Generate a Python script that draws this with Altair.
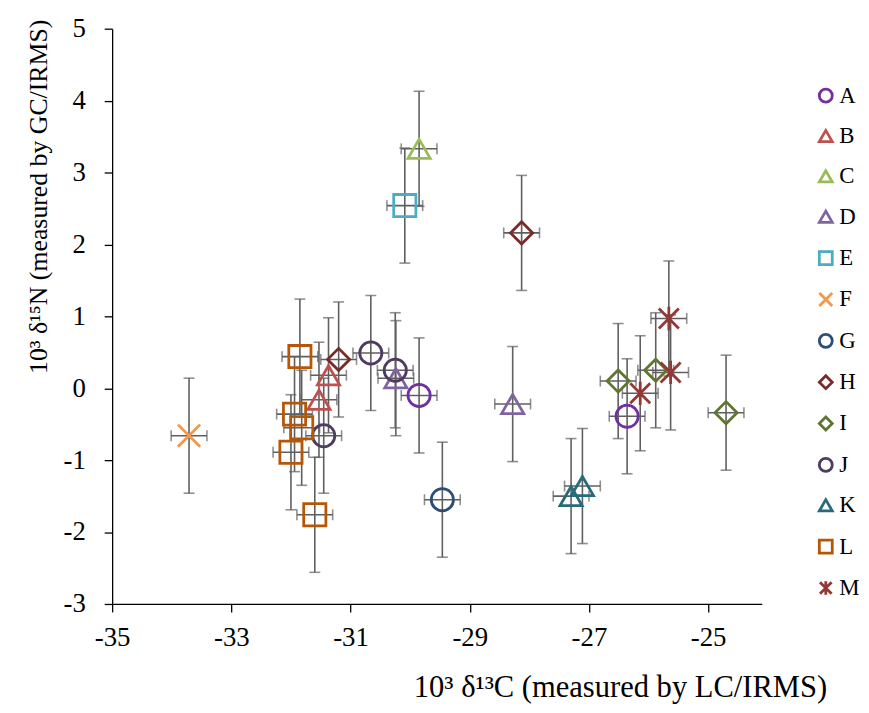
import altair as alt
import pandas as pd

# ---- data ----
series = ["A", "A", "B", "B", "C", "D", "D", "E", "F", "G", "H", "H",
          "I", "I", "I", "J", "J", "J", "K", "K", "L", "L", "L", "L", "L",
          "M", "M", "M"]
d13c = [-29.85, -26.36, -31.37, -31.53, -29.85, -30.24, -28.28, -30.09,
        -33.71, -29.46, -31.20, -28.13, -26.51, -25.88, -24.70, -30.66,
        -30.25, -31.45, -27.11, -27.30, -31.85, -31.94, -31.82, -32.00,
        -31.60, -25.66, -25.63, -26.14]
d15n = [-0.10, -0.39, 0.18, -0.16, 3.33, 0.14, -0.22, 2.54, -0.66, -1.55,
        0.40, 2.16, 0.10, 0.25, -0.34, 0.49, 0.25, -0.66, -1.36, -1.50,
        0.44, -0.36, -0.55, -0.89, -1.76, 0.97, 0.22, -0.07]
xerr = [0.3, 0.3, 0.3, 0.3, 0.3, 0.3, 0.3, 0.3, 0.3, 0.3, 0.3, 0.3, 0.3, 0.3,
        0.3, 0.3, 0.3, 0.3, 0.3, 0.3, 0.3, 0.3, 0.3, 0.3, 0.3, 0.3, 0.3, 0.3]
yerr = [0.8, 0.8, 0.8, 0.8, 0.8, 0.8, 0.8, 0.8, 0.8, 0.8, 0.8, 0.8, 0.8, 0.8,
        0.8, 0.8, 0.8, 0.8, 0.8, 0.8, 0.8, 0.8, 0.8, 0.8, 0.8, 0.8, 0.8, 0.8]

names = ["A", "B", "C", "D", "E", "F", "G", "H", "I", "J", "K", "L", "M"]
colors = ["#7030A0", "#C0504D", "#9BBB59", "#8064A2", "#4BACC6", "#F79646",
          "#2C4D75", "#772C2A", "#5F7530", "#4D3B62", "#276A7C", "#B65708",
          "#953735"]
X_PATH = "M-1,-1L1,1M-1,1L1,-1"
AST_PATH = "M-0.9,-0.9L0.9,0.9M-0.9,0.9L0.9,-0.9M0,-1.05L0,1.05"
shapes = ["circle", "triangle-up", "triangle-up", "triangle-up", "square",
          X_PATH, "circle", "diamond", "diamond", "circle", "triangle-up",
          "square", AST_PATH]

x_ticks = [-35, -33, -31, -29, -27, -25]
y_ticks = [-3, -2, -1, 0, 1, 2, 3, 4, 5]

df = pd.DataFrame({"series": series, "x": d13c, "y": d15n,
                   "xe": xerr, "ye": yerr})

FONT = "Liberation Serif, Times New Roman, serif"
xscale = alt.Scale(domain=[-35, -24.1], nice=False, zero=False)
yscale = alt.Scale(domain=[-3, 5], nice=False, zero=False)

axis_style = dict(labelFont=FONT, labelFontSize=27, labelColor="black",
                  titleFont=FONT, titleFontWeight="normal",
                  titleColor="black", grid=False, domainColor="black",
                  tickColor="black", domainWidth=1.3, tickWidth=1.3,
                  tickSize=8, labelFlush=False,
                  labelExpr="'' + datum.value")

xaxis = alt.Axis(values=x_ticks, title="10³ δ¹³C (measured by LC/IRMS)",
                 titleX=512, titleY=93, titleAlign="center",
                 titleBaseline="alphabetic", titleFontSize=30.8,
                 labelPadding=13, **axis_style)
yaxis = alt.Axis(values=y_ticks, title="10³ δ¹⁵N (measured by GC/IRMS)",
                 titleX=-66, titleY=169, titleAngle=-90, titleAlign="center",
                 titleBaseline="alphabetic", titleFontSize=26,
                 labelPadding=19, **axis_style)

base = alt.Chart(df).transform_calculate(
    xlo="datum.x - datum.xe", xhi="datum.x + datum.xe",
    ylo="datum.y - datum.ye", yhi="datum.y + datum.ye")

EB = "#5F5F5F"
vbar = base.mark_rule(color=EB, strokeWidth=1.6).encode(
    x=alt.X("x:Q", scale=xscale, axis=xaxis),
    y=alt.Y("ylo:Q", scale=yscale, axis=yaxis), y2="yhi:Q")
hbar = base.mark_rule(color=EB, strokeWidth=1.6).encode(
    x=alt.X("xlo:Q", scale=xscale), x2="xhi:Q",
    y=alt.Y("y:Q", scale=yscale))
vcap = base.transform_fold(["ylo", "yhi"], as_=["k", "cy"]).mark_tick(
    color=EB, orient="horizontal", size=11, thickness=1.6).encode(
    x=alt.X("x:Q", scale=xscale), y=alt.Y("cy:Q", scale=yscale))
hcap = base.transform_fold(["xlo", "xhi"], as_=["k", "cx"]).mark_tick(
    color=EB, orient="vertical", size=11, thickness=1.6).encode(
    x=alt.X("cx:Q", scale=xscale), y=alt.Y("y:Q", scale=yscale))

legend = alt.Legend(title=None, orient="none", legendX=708, legendY=56,
                    symbolSize=170, symbolStrokeWidth=2.8, labelFont=FONT,
                    labelFontSize=23, labelColor="black", rowPadding=16.7,
                    labelOffset=2, padding=0)

points = base.mark_point(filled=False, size=500, strokeWidth=2.8,
                         opacity=1).encode(
    x=alt.X("x:Q", scale=xscale),
    y=alt.Y("y:Q", scale=yscale),
    color=alt.Color("series:N", scale=alt.Scale(domain=names, range=colors),
                    legend=legend),
    shape=alt.Shape("series:N", scale=alt.Scale(domain=names, range=shapes),
                    legend=legend),
)

chart = alt.layer(vbar, hbar, vcap, hcap, points).properties(
    width=655, height=580,
    padding={"left": 105, "top": 18, "right": 100, "bottom": 99},
    autosize=alt.AutoSizeParams(type="none"),
    background="white",
).configure(font=FONT).configure_view(stroke=None)

chart.save("out.html", embed_options={"renderer": "svg", "actions": False})
